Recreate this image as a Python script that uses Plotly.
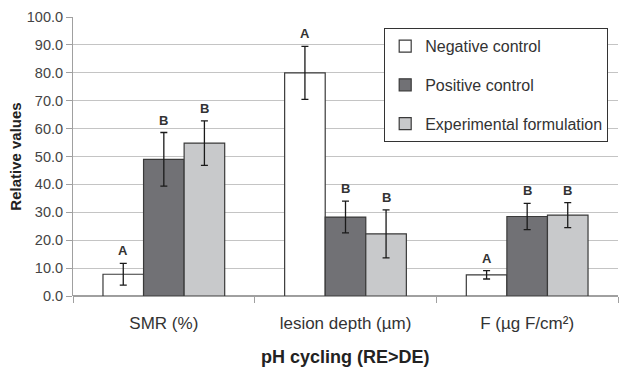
import plotly.graph_objects as go

categories = ["SMR (%)", "lesion depth (µm)", "F (µg F/cm²)"]
series_names = ["Negative control", "Positive control", "Experimental formulation"]
negative_vals = [7.8, 80.0, 7.6]
negative_err = [3.9, 9.5, 1.5]
positive_vals = [49.0, 28.3, 28.5]
positive_err = [9.6, 5.7, 4.7]
experimental_vals = [54.8, 22.3, 29.0]
experimental_err = [8.0, 8.6, 4.5]
negative_letters = ["A", "A", "A"]
positive_letters = ["B", "B", "B"]
experimental_letters = ["B", "B", "B"]
y_ticks = [0, 10, 20, 30, 40, 50, 60, 70, 80, 90, 100]

colors = ["#ffffff", "#717175", "#c8c9cb"]
FONT = "Liberation Sans, Arial, sans-serif"
BARGAP = 0.33

fig = go.Figure()
all_vals = [negative_vals, positive_vals, experimental_vals]
all_err = [negative_err, positive_err, experimental_err]
all_letters = [negative_letters, positive_letters, experimental_letters]

for i, (name, vals, errs, col) in enumerate(zip(series_names, all_vals, all_err, colors)):
    fig.add_trace(go.Bar(
        x=categories, y=vals, name=name,
        marker=dict(color=col, line=dict(color="#3a3a3a", width=1.2)),
        error_y=dict(type="data", array=errs, visible=True, color="#1a1a1a",
                     thickness=1.3, width=3.5),
        legendgroup=name,
    ))

bw = (1 - BARGAP) / 3
for i, (vals, errs, letters) in enumerate(zip(all_vals, all_err, all_letters)):
    off = (i - 1) * bw
    for j, (v, e, t) in enumerate(zip(vals, errs, letters)):
        fig.add_annotation(x=j + off, y=v + e, xref="x", yref="y", text="<b>" + t + "</b>",
                           showarrow=False, yanchor="bottom", yshift=3,
                           font=dict(family=FONT, size=13, color="#333333"))

fig.add_annotation(x=0.5, y=-0.219, xref="paper", yref="paper", text="<b>pH cycling (RE>DE)</b>",
                   showarrow=False, yanchor="middle", xanchor="center",
                   font=dict(family=FONT, size=18, color="#222222"))

fig.update_layout(
    width=620, height=367,
    margin=dict(l=73, r=2, t=17, b=71),
    paper_bgcolor="white", plot_bgcolor="white",
    barmode="group", bargap=BARGAP, bargroupgap=0,
    font=dict(family=FONT, size=13, color="#333333"),
    showlegend=True,
    legend=dict(x=0.571, y=0.96, xanchor="left", yanchor="top",
                bgcolor="white", bordercolor="#333333", borderwidth=1,
                font=dict(family=FONT, size=16, color="#333333"),
                tracegroupgap=15, traceorder="grouped"),
)
fig.update_xaxes(
    type="category", showgrid=False, showline=False,
    ticks="outside", tickson="boundaries", ticklen=6, tickcolor="#a0a0a0",
    tickfont=dict(family=FONT, size=17, color="#333333"),
    ticklabelstandoff=15,
)
fig.update_yaxes(
    range=[0, 100], tickvals=y_ticks, ticktext=[f"{v:.1f}" for v in y_ticks],
    showgrid=True, gridcolor="#c4c4c4", gridwidth=1,
    showline=True, linecolor="#a0a0a0", linewidth=1,
    ticks="outside", ticklen=6, tickcolor="#a0a0a0",
    tickfont=dict(family=FONT, size=14.5, color="#444444"),
    zeroline=True, zerolinecolor="#a0a0a0",
    title=dict(text="<b>Relative values</b>", font=dict(family=FONT, size=15, color="#222222"), standoff=1),
)

fig.write_html("out.html", config={"displayModeBar": False},
               post_script="document.body.style.margin='0';document.body.style.padding='0';")
